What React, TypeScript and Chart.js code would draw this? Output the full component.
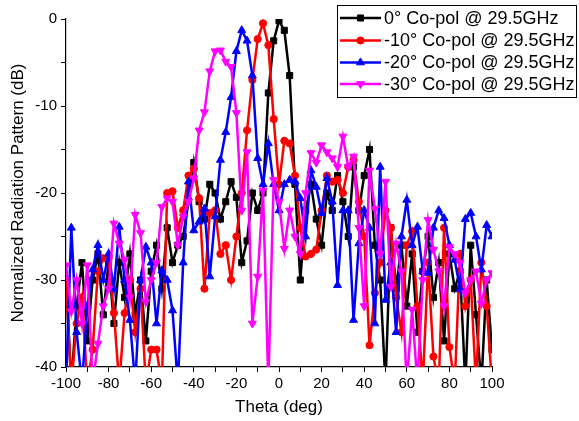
import React, { useEffect, useRef } from 'react';
import { Chart, registerables } from 'chart.js';

Chart.register(...registerables);

const FONT = "'Liberation Sans', Arial, sans-serif";

const theta = [
  -100, -97.5, -95, -92.5, -90, -87.5, -85, -82.5, -80, -77.5,
  -75, -72.5, -70, -67.5, -65, -62.5, -60, -57.5, -55, -52.5,
  -50, -47.5, -45, -42.5, -40, -37.5, -35, -32.5, -30, -27.5,
  -25, -22.5, -20, -17.5, -15, -12.5, -10, -7.5, -5, -2.5,
  0,
  2.5, 5, 7.5, 10, 12.5, 15, 17.5, 20, 22.5, 25,
  27.5, 30, 32.5, 35, 37.5, 40, 42.5, 45, 47.5, 50,
  52.5, 55, 57.5, 60, 62.5, 65, 67.5, 70, 72.5, 75,
  77.5, 80, 82.5, 85, 87.5, 90, 92.5, 95, 97.5, 100,
];

const copol0 = [
  -30, -42, -33, -28, -37, -30, -27, -34, -28, -35,
  -28, -32, -27, -34, -30, -37, -29, -26, -31, -24,
  -28, -26, -25, -21, -16.5, -21, -23, -19, -20, -23,
  -21, -18.7, -20.5, -28, -25.5, -20, -22, -20, -8.5, -2.5,
  -0.2,
  -1.3, -6.5, -19, -30, -22, -19, -23, -26, -20, -22,
  -18, -21, -25, -17, -22, -18, -15, -26, -30, -42,
  -24, -31, -26, -33, -27, -36, -29, -25, -32, -28,
  -37, -27, -31, -29, -42, -26, -34, -42, -30, -38,
];

const copolM10 = [
  -30, -42, -35, -32, -42, -38, -29, -27.5, -27.5, -33.8,
  -42, -33.8, -30, -36, -31, -42, -38, -38, -42, -20,
  -19.8, -24, -22, -18, -17.2, -20.6, -31, -22.3, -22, -27,
  -26, -30, -25, -20, -12.8, -7, -2.3, -0.5, -3, -11.5,
  -19,
  -14, -14.3, -18, -24, -27.3, -27, -26.5, -22, -18, -18.7,
  -18.5, -20, -17, -16.2, -21, -25, -37.5, -31.5, -28, -22,
  -24, -32, -36, -26, -24.4, -33, -42, -28, -38.8, -42,
  -24, -37.7, -42, -27, -33, -30, -42, -28, -33, -42,
];

const copolM20 = [
  -42, -24, -36, -42, -33, -28.8, -26, -30, -27, -31,
  -23.9, -30, -34.6, -42, -30, -26.2, -28, -35, -28.9, -30,
  -33.5, -42, -28, -18.7, -24.3, -23.3, -21.8, -29.6, -22.7, -16.2,
  -13, -9, -3.7, -1.3, -2.5, -6.5, -16, -19, -14.3, -19,
  -22,
  -19, -18.5, -18.7, -20.6, -25, -17.4, -19.3, -22.3, -18.3, -21,
  -30.6, -22, -22, -34.6, -25.8, -22, -24, -35, -17, -32.3,
  -28, -36, -25, -20.8, -26, -23.9, -29, -29.2, -24, -22,
  -22.9, -26, -27.7, -31, -23, -22.3, -25, -28.8, -23.7, -25,
];

const copolM30 = [
  -28.3, -33.6, -30, -35, -28.3, -42, -37.3, -33, -31, -23.5,
  -25.8, -27.7, -32, -22.5, -24.6, -32.5, -30, -28, -21.6, -20.6,
  -21, -26, -22.7, -21, -18.3, -12.8, -10.7, -6, -3.7, -3.6,
  -4.9, -5.5, -10.8, -22, -15.3, -35, -29.6, -19.7, -42, -18.5,
  -21,
  -26.4, -22, -25, -27, -20, -15.4, -16.5, -14.5, -15.3, -16,
  -17, -13.5, -17, -15.8, -24, -33, -17.4, -21.8, -27, -18.7,
  -30.8, -25.8, -29, -42, -33.4, -42, -30, -23.1, -26.5, -29,
  -33, -26.2, -27, -28, -31.5, -30, -29, -32.7, -30, -29.2,
];

const seriesLabels = [
  '0° Co-pol @ 29.5GHz',
  '-10° Co-pol @ 29.5GHz',
  '-20° Co-pol @ 29.5GHz',
  '-30° Co-pol @ 29.5GHz',
];
const seriesColors = ['#000000', '#ff0000', '#0000ff', '#ff00ff'];
const xTickLabels = [-100, -80, -60, -40, -20, 0, 20, 40, 60, 80, 100];
const yTickLabels = [0, -10, -20, -30, -40];

function pts(ys: number[]) {
  return theta.map((x, i) => ({ x, y: ys[i] }));
}

const markerStyles: any[] = [
  { pointStyle: 'rect', radius: 4.3, rotation: 0 },
  { pointStyle: 'circle', radius: 3.6, rotation: 0 },
  { pointStyle: 'triangle', radius: 4.6, rotation: 0 },
  { pointStyle: 'triangle', radius: 4.6, rotation: 180 },
];

const legendPlugin = {
  id: 'boxLegend',
  afterDraw(chart: any) {
    const ctx = chart.ctx as CanvasRenderingContext2D;
    const bx = 337.5, by = 5.5, bw = 239, bh = 92;
    ctx.save();
    ctx.fillStyle = '#ffffff';
    ctx.fillRect(bx, by, bw, bh);
    ctx.strokeStyle = '#000000';
    ctx.lineWidth = 1;
    ctx.strokeRect(bx, by, bw, bh);
    const rowY = [18, 40.5, 62.5, 84];
    seriesLabels.forEach((label, i) => {
      const y = rowY[i];
      const c = seriesColors[i];
      ctx.strokeStyle = c;
      ctx.lineWidth = 2.5;
      ctx.beginPath();
      ctx.moveTo(340, y);
      ctx.lineTo(381, y);
      ctx.stroke();
      const m = markerStyles[i];
      ctx.fillStyle = c;
      ctx.strokeStyle = c;
      ctx.lineWidth = 1;
      (Chart as any).helpers
        ? null
        : null;
      drawMarker(ctx, m.pointStyle, 360.5, y, m.radius, m.rotation);
      ctx.fillStyle = '#000000';
      ctx.font = `18px ${FONT}`;
      ctx.textAlign = 'left';
      ctx.textBaseline = 'middle';
      ctx.fillText(label, 384, y + 1);
    });
    ctx.restore();
  },
};

function drawMarker(ctx: CanvasRenderingContext2D, style: string, x: number, y: number, r: number, rot: number) {
  ctx.beginPath();
  if (style === 'rect') {
    const s = Math.SQRT1_2 * r;
    ctx.rect(x - s, y - s, 2 * s, 2 * s);
  } else if (style === 'circle') {
    ctx.arc(x, y, r, 0, Math.PI * 2);
  } else {
    const a0 = (rot * Math.PI) / 180;
    for (let k = 0; k < 3; k++) {
      const a = a0 + (k * 2 * Math.PI) / 3;
      const px = x + Math.sin(a) * r;
      const py = y - Math.cos(a) * r;
      if (k === 0) ctx.moveTo(px, py);
      else ctx.lineTo(px, py);
    }
    ctx.closePath();
  }
  ctx.fill();
  ctx.stroke();
}

export default function App() {
  const ref = useRef<HTMLCanvasElement | null>(null);

  useEffect(() => {
    if (!ref.current) return;
    const all = [copol0, copolM10, copolM20, copolM30];
    const datasets = all.map((ys, i) => ({
      label: seriesLabels[i],
      data: pts(ys),
      borderColor: seriesColors[i],
      backgroundColor: seriesColors[i],
      pointBackgroundColor: seriesColors[i],
      pointBorderColor: seriesColors[i],
      pointBorderWidth: 1,
      borderWidth: 2.5,
      pointStyle: markerStyles[i].pointStyle,
      pointRadius: markerStyles[i].radius,
      pointRotation: markerStyles[i].rotation,
      tension: 0,
      order: 4 - i,
    }));

    const chart = new Chart(ref.current, {
      type: 'line',
      data: { datasets },
      plugins: [legendPlugin],
      options: {
        animation: false,
        responsive: false,
        maintainAspectRatio: false,
        layout: { padding: { left: 0, right: 87, top: 19, bottom: 0 } },
        plugins: {
          legend: { display: false },
          tooltip: { enabled: false },
        },
        scales: {
          x: {
            type: 'linear',
            min: -100,
            max: 100,
            afterFit: (s: any) => { s.height = 54; },
            afterBuildTicks: (s: any) => {
              const t: any[] = [];
              for (const v of xTickLabels) {
                t.push({ value: v });
                if (v < 100) t.push({ value: v + 10 });
              }
              s.ticks = t;
            },
            ticks: {
              autoSkip: false,
              maxRotation: 0,
              padding: 3,
              color: '#000000',
              font: { family: FONT, size: 15 },
              callback: (v: any) => (xTickLabels.includes(Number(v)) ? String(v) : ''),
            },
            grid: {
              drawOnChartArea: false,
              drawTicks: true,
              tickLength: 5,
              tickColor: '#000000',
              tickWidth: 1,
            },
            border: { display: true, color: '#000000', width: 1.2 },
            title: {
              display: true,
              text: 'Theta (deg)',
              color: '#000000',
              font: { family: FONT, size: 17 },
              padding: { top: 0, bottom: 3 },
            },
          },
          y: {
            type: 'linear',
            min: -40,
            max: 0,
            afterFit: (s: any) => { s.width = 66; },
            afterBuildTicks: (s: any) => {
              const t: any[] = [];
              for (const v of yTickLabels) {
                t.push({ value: v });
                if (v > -40) t.push({ value: v - 5 });
              }
              s.ticks = t;
            },
            ticks: {
              autoSkip: false,
              padding: 4,
              color: '#000000',
              font: { family: FONT, size: 15 },
              callback: (v: any) => (yTickLabels.includes(Number(v)) ? String(v) : ''),
            },
            grid: {
              drawOnChartArea: false,
              drawTicks: true,
              tickLength: 5,
              tickColor: '#000000',
              tickWidth: 1,
            },
            border: { display: true, color: '#000000', width: 1.2 },
            title: {
              display: true,
              text: 'Normalized Radiation Pattern (dB)',
              color: '#000000',
              font: { family: FONT, size: 17 },
              padding: { top: 8, bottom: 0 },
            },
          },
        },
      } as any,
    });
    return () => chart.destroy();
  }, []);

  return (
    <div style={{ position: 'fixed', left: 0, top: 0, width: 579, height: 421, background: '#ffffff' }}>
      <canvas ref={ref} width={579} height={421} style={{ display: 'block', width: 579, height: 421 }} />
    </div>
  );
}
